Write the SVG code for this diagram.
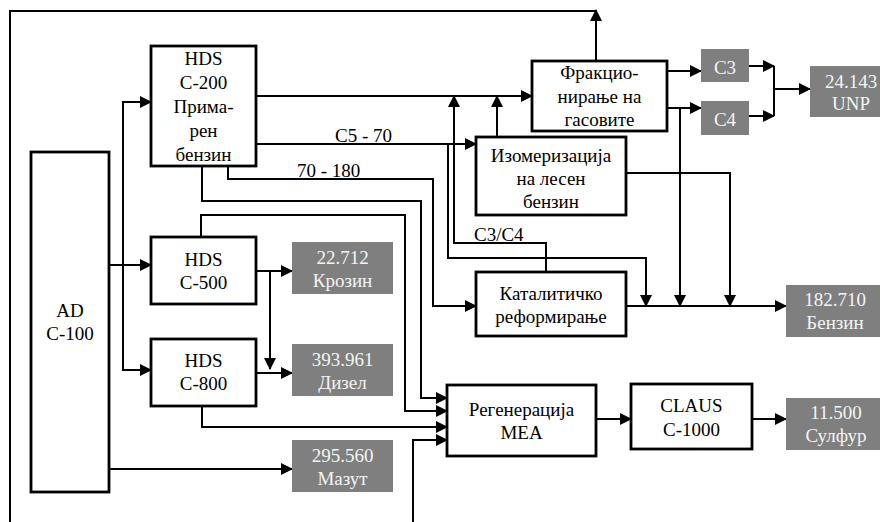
<svg xmlns="http://www.w3.org/2000/svg" width="880" height="522" viewBox="0 0 880 522">
  <style>
    .box { fill: #ffffff; stroke: #000000; stroke-width: 2.8; }
    .prod { fill: #7f7f7f; }
    text { font-family: 'Liberation Serif', 'Times New Roman', 'DejaVu Serif', serif; font-size: 19px; }
    .t { fill: #000000; text-anchor: middle; }
    .tw { fill: #f4f4f4; text-anchor: middle; }
    .lbl { fill: #000000; }
    .ln { fill: none; stroke: #000000; stroke-width: 2; }
    .ar { fill: none; stroke: #000000; stroke-width: 2; marker-end: url(#arrow); }
  </style>
  <defs>
    <marker id="arrow" markerUnits="userSpaceOnUse" markerWidth="12" markerHeight="12" refX="11" refY="6" orient="auto">
      <path d="M0,0 L12,6 L0,12 z" fill="#000000"/>
    </marker>
  </defs>

  <rect width="880" height="522" fill="#ffffff"/>

  <!-- connectors -->
  <g id="connectors">
    <!-- recycle loop around the plant -->
    <path class="ar" d="M596,61 V10"/>
    <path class="ln" d="M596,11 H10 V522"/>
    <path class="ar" d="M413,522 V440 H447"/>

    <!-- AD C-100 feeds -->
    <path class="ar" d="M123,265 V102 H151"/>
    <path class="ar" d="M123,265 V370 H151"/>
    <path class="ar" d="M109,265 H151"/>
    <path class="ar" d="M109,469 H292"/>

    <!-- HDS C-200 outputs -->
    <path class="ar" d="M256,96 H532"/>
    <path class="ar" d="M256,144 H476"/>
    <path class="ar" d="M228,159 V179 H433 V306 H476"/>
    <path class="ar" d="M202,166 V201 H421 V398 H447"/>

    <!-- HDS C-500 outputs -->
    <path class="ar" d="M256,271 H292"/>
    <path class="ar" d="M270,271 V369"/>
    <path class="ar" d="M201,237 V215 H405 V411 H447"/>

    <!-- HDS C-800 outputs -->
    <path class="ar" d="M256,373 H292"/>
    <path class="ar" d="M202,406 V427 H447"/>

    <!-- C5-70 bypass to gasoline pool -->
    <path class="ar" d="M448,144 V258 H646 V306"/>
    <!-- C3/C4 from reformer to gas fractionation -->
    <path class="ar" d="M546,272 V243 H454 V96"/>
    <!-- isomerization -->
    <path class="ar" d="M497,137 V96"/>
    <path class="ar" d="M626,173 H730 V306"/>

    <!-- gas fractionation -->
    <path class="ar" d="M667,71 H701"/>
    <path class="ar" d="M667,108 H701"/>
    <path class="ar" d="M680,108 V306"/>
    <path class="ar" d="M749,66 H774"/>
    <path class="ar" d="M749,116 H774"/>
    <path class="ln" d="M774,66 V116"/>
    <path class="ar" d="M774,89 H810"/>

    <!-- gasoline pool -->
    <path class="ar" d="M626,306 H786"/>

    <!-- sulphur recovery -->
    <path class="ar" d="M596,419 H631"/>
    <path class="ar" d="M752,419 H786"/>

    <text class="lbl" x="335" y="142">C5 - 70</text>
    <text class="lbl" x="297" y="177">70 - 180</text>
    <text class="lbl" x="474" y="241">C3/C4</text>
  </g>

  <!-- process units -->
  <g id="ad-c100">
    <rect class="box" x="31" y="152" width="78" height="340"/>
    <text class="t" x="70" y="317">AD</text>
    <text class="t" x="70" y="340">C-100</text>
  </g>
  <g id="hds-c200">
    <rect class="box" x="151" y="46" width="105" height="120"/>
    <text class="t" x="203.5" y="65">HDS</text>
    <text class="t" x="203.5" y="89">C-200</text>
    <text class="t" x="203.5" y="113">Прима-</text>
    <text class="t" x="203.5" y="137">рен</text>
    <text class="t" x="203.5" y="161">бензин</text>
  </g>
  <g id="hds-c500">
    <rect class="box" x="151" y="237" width="105" height="67"/>
    <text class="t" x="203.5" y="266">HDS</text>
    <text class="t" x="203.5" y="289">C-500</text>
  </g>
  <g id="hds-c800">
    <rect class="box" x="151" y="339" width="105" height="67"/>
    <text class="t" x="203.5" y="367">HDS</text>
    <text class="t" x="203.5" y="390">C-800</text>
  </g>
  <g id="gas-fractionation">
    <rect class="box" x="532" y="61" width="135" height="70"/>
    <text class="t" x="599.5" y="79">Фракцио-</text>
    <text class="t" x="599.5" y="103">нирање на</text>
    <text class="t" x="599.5" y="126">гасовите</text>
  </g>
  <g id="isomerization">
    <rect class="box" x="476" y="137" width="150" height="78"/>
    <text class="t" x="551" y="162">Изомеризација</text>
    <text class="t" x="551" y="185">на лесен</text>
    <text class="t" x="551" y="208">бензин</text>
  </g>
  <g id="catalytic-reforming">
    <rect class="box" x="476" y="272" width="150" height="64"/>
    <text class="t" x="551" y="300">Каталитичко</text>
    <text class="t" x="551" y="323">реформирање</text>
  </g>
  <g id="mea-regeneration">
    <rect class="box" x="447" y="385" width="149" height="71"/>
    <text class="t" x="521.5" y="416">Регенерација</text>
    <text class="t" x="521.5" y="439">MEA</text>
  </g>
  <g id="claus-c1000">
    <rect class="box" x="631" y="384" width="121" height="65"/>
    <text class="t" x="691.5" y="412">CLAUS</text>
    <text class="t" x="691.5" y="436">C-1000</text>
  </g>

  <!-- products -->
  <g id="c3">
    <rect class="prod" x="701" y="49" width="48" height="33"/>
    <text class="tw" x="725" y="74">C3</text>
  </g>
  <g id="c4">
    <rect class="prod" x="701" y="101" width="48" height="34"/>
    <text class="tw" x="725" y="126">C4</text>
  </g>
  <g id="lpg">
    <rect class="prod" x="810" y="66" width="80" height="51"/>
    <text class="tw" x="851" y="88">24.143</text>
    <text class="tw" x="851" y="110">UNP</text>
  </g>
  <g id="kerosene">
    <rect class="prod" x="292" y="242" width="101" height="52"/>
    <text class="tw" x="342.5" y="264">22.712</text>
    <text class="tw" x="342.5" y="287">Крозин</text>
  </g>
  <g id="diesel">
    <rect class="prod" x="292" y="344" width="101" height="52"/>
    <text class="tw" x="342.5" y="366">393.961</text>
    <text class="tw" x="342.5" y="389">Дизел</text>
  </g>
  <g id="fuel-oil">
    <rect class="prod" x="292" y="440" width="101" height="52"/>
    <text class="tw" x="342.5" y="462">295.560</text>
    <text class="tw" x="342.5" y="485">Мазут</text>
  </g>
  <g id="gasoline">
    <rect class="prod" x="786" y="285" width="100" height="52"/>
    <text class="tw" x="835" y="306">182.710</text>
    <text class="tw" x="835" y="329">Бензин</text>
  </g>
  <g id="sulphur">
    <rect class="prod" x="786" y="398" width="100" height="52"/>
    <text class="tw" x="836" y="419">11.500</text>
    <text class="tw" x="836" y="442">Сулфур</text>
  </g>
</svg>
